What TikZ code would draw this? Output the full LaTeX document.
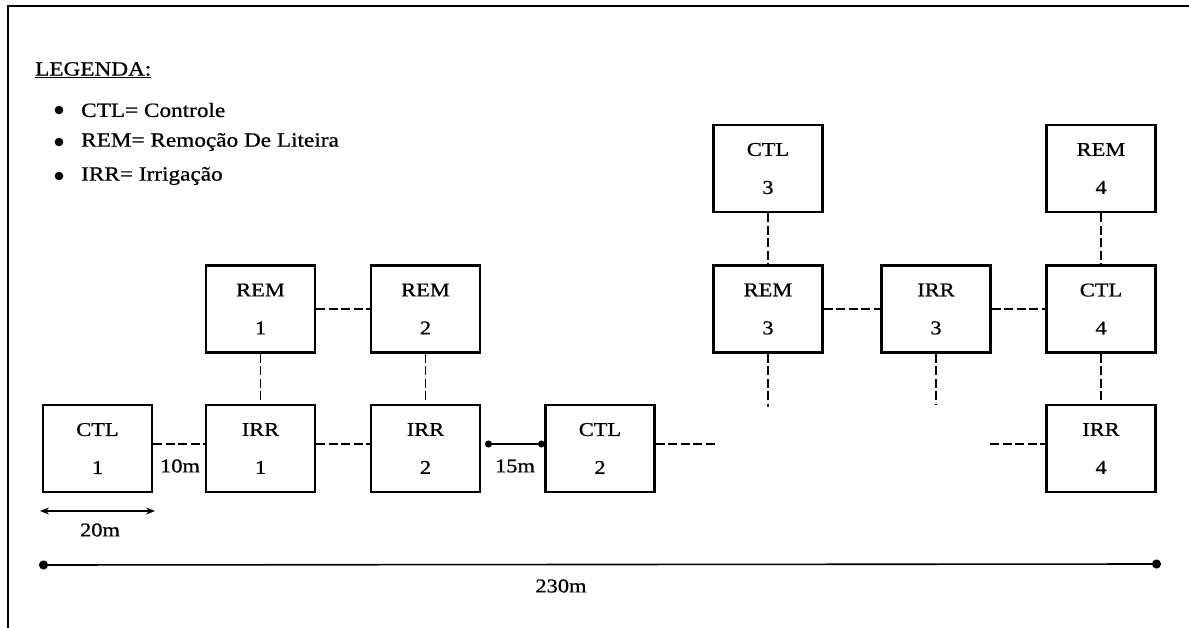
\documentclass[tikz,border=0pt]{standalone}
\usepackage{fontspec}
\setmainfont{Liberation Serif}[FakeStretch=1.15,FakeBold=0.8]
\usetikzlibrary{arrows.meta}
\begin{document}
\begin{tikzpicture}[x=1pt,y=-1pt,
  box/.style={draw,line width=2.4pt,minimum width=109pt,minimum height=87pt,inner sep=0pt,
    align=center,font=\fontsize{19.5}{38}\selectfont},
  link/.style={line width=1.1pt,dash pattern=on 9pt off 3.5pt},
  lbl/.style={inner sep=0pt,font=\fontsize{19.5}{23}\selectfont},
  legtxt/.style={inner sep=0pt,anchor=west,font=\fontsize{20.2}{23}\selectfont}]
\useasboundingbox (0,0) rectangle (1189,628);
% frame
\draw[line width=2pt] (8,628) -- (8,6) -- (1189,6);
% legend
\node[legtxt] (leg) at (35,70) {\underline{LEGENDA:}};
\fill (59,110) circle (4.3pt);
\fill (59,142) circle (4.3pt);
\fill (59,176) circle (4.3pt);
\node[legtxt] (l1) at (81,110) {CTL= Controle};
\node[legtxt] (l2) at (81,142) {REM= Remoção De Liteira};
\node[legtxt] (l3) at (81,176) {IRR= Irrigação};
% boxes
\node[box] (CTL1) at (97.5,448.5) {CTL\\1};
\node[box] (IRR1) at (260.5,448.5) {IRR\\1};
\node[box] (IRR2) at (425.5,448.5) {IRR\\2};
\node[box] (CTL2) at (600,448.5) {CTL\\2};
\node[box] (REM1) at (260.5,309) {REM\\1};
\node[box] (REM2) at (425.5,309) {REM\\2};
\node[box] (CTL3) at (768,168.5) {CTL\\3};
\node[box] (REM3) at (768,309) {REM\\3};
\node[box] (IRR3) at (936,309) {IRR\\3};
\node[box] (CTL4) at (1101,309) {CTL\\4};
\node[box] (REM4) at (1101,168.5) {REM\\4};
\node[box] (IRR4) at (1101,448.5) {IRR\\4};
% free ends
\coordinate (s1) at (715,444);
\coordinate (s2) at (990,444);
\coordinate (s3) at (768,407);
\coordinate (s4) at (936,405);
% dashed links
\draw[link] ([yshift=4.5pt]CTL1.east) -- ([yshift=4.5pt]IRR1.west);
\draw[link] ([yshift=4.5pt]IRR1.east) -- ([yshift=4.5pt]IRR2.west);
\draw[link] ([yshift=4.5pt]CTL2.east) -- (s1);
\draw[link] (s2) -- ([yshift=4.5pt]IRR4.west);
\draw[link] (REM1) -- (IRR1);
\draw[link] (REM2) -- (IRR2);
\draw[link] (REM1) -- (REM2);
\draw[link] (CTL3) -- (REM3);
\draw[link] (REM3) -- (IRR3);
\draw[link] (IRR3) -- (CTL4);
\draw[link] (REM4) -- (CTL4);
\draw[link] (CTL4) -- (IRR4);
\draw[link] (REM3) -- (s3);
\draw[link] (IRR3) -- (s4);
% dimensions
\coordinate (d1) at (485,444);
\coordinate (d2) at (545,444);
\draw[line width=1.1pt,{Circle[length=7pt]}-{Circle[length=7pt]}] (d1) -- (d2);
\node[lbl] (m15) at (515,466) {15m};
\node[lbl] (m10) at (180,466) {10m};
\coordinate (a1) at (40,511);
\coordinate (a2) at (155,511);
\draw[line width=1.4pt,{Stealth[length=9pt,width=7pt]}-{Stealth[length=9pt,width=7pt]}] (a1) -- (a2);
\node[lbl] (m20) at (100,530) {20m};
\coordinate (b1) at (39,565);
\coordinate (b2) at (1161,564);
\draw[line width=1.6pt,{Circle[length=9pt]}-{Circle[length=9pt]}] (b1) -- (b2);
\node[lbl] (m230) at (561,586) {230m};
\end{tikzpicture}
\end{document}
